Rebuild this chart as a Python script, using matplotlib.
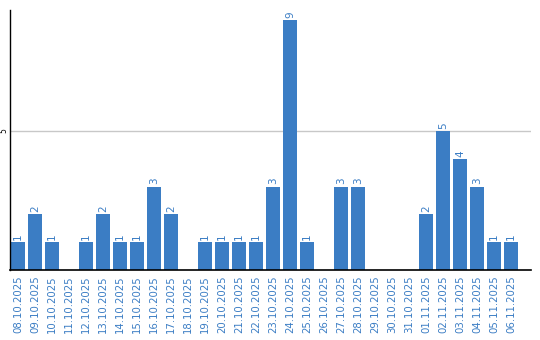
import matplotlib
matplotlib.use("Agg")
import matplotlib.pyplot as plt

dates = [
    "08.10.2025", "09.10.2025", "10.10.2025", "11.10.2025", "12.10.2025",
    "13.10.2025", "14.10.2025", "15.10.2025", "16.10.2025", "17.10.2025",
    "18.10.2025", "19.10.2025", "20.10.2025", "21.10.2025", "22.10.2025",
    "23.10.2025", "24.10.2025", "25.10.2025", "26.10.2025", "27.10.2025",
    "28.10.2025", "29.10.2025", "30.10.2025", "31.10.2025", "01.11.2025",
    "02.11.2025", "03.11.2025", "04.11.2025", "05.11.2025", "06.11.2025",
]
counts = [1, 2, 1, 0, 1, 2, 1, 1, 3, 2, 0, 1, 1, 1, 1, 3, 9, 1, 0, 3,
          3, 0, 0, 0, 2, 5, 4, 3, 1, 1]

blue = "#3b7dc4"

fig = plt.figure(figsize=(5.4, 3.4), dpi=100)
ax = fig.add_axes([10 / 540, 70 / 340, 521 / 540, 260 / 340])

x = list(range(len(dates)))
ax.bar(x, counts, width=0.82, color=blue, zorder=2)
for xi, v in zip(x, counts):
    if v > 0:
        ax.text(xi, v + 0.08, str(v), rotation=90, ha="center", va="bottom",
                color=blue, fontsize=7.5)

ax.set_xlim(-0.47, 30.18)
ax.set_ylim(0, 9.35)
ax.set_yticks([5])
ax.set_yticklabels(["5"], rotation=90, va="center", fontsize=5.5)
ax.tick_params(axis="y", length=0, pad=1)
ax.yaxis.grid(True, color="#c8c8c8", lw=1, zorder=0)
ax.set_xticks(x)
ax.set_xticklabels(dates, rotation=90, color=blue, fontsize=7.3)
ax.tick_params(axis="x", length=0, pad=4)
for s in ("top", "right"):
    ax.spines[s].set_visible(False)
ax.spines["left"].set_linewidth(1)
ax.spines["bottom"].set_linewidth(1.2)

fig.savefig("out.png", dpi=100)
